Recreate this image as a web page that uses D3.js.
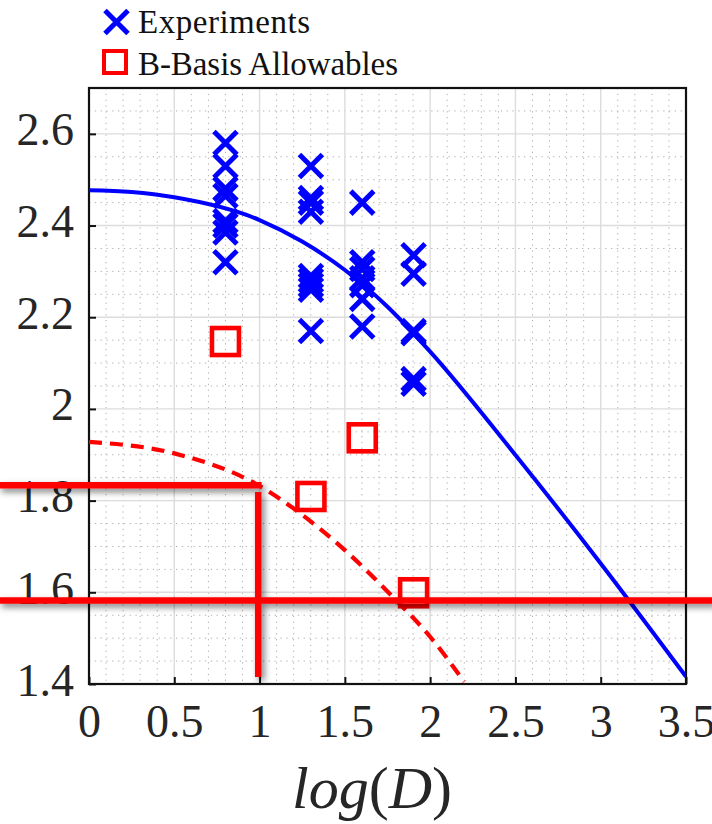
<!DOCTYPE html>
<html><head><meta charset="utf-8">
<script src="https://cdn.jsdelivr.net/npm/d3@7"></script>
<style>body{margin:0;background:#fff}</style>
</head><body><svg id="c" width="712" height="824"></svg>
<script>
// ---- data ----
const xTicks=[0,0.5,1,1.5,2,2.5,3,3.5];
const xTickLabels=["0","0.5","1","1.5","2","2.5","3","3.5"];
const yTicks=[1.4,1.6,1.8,2,2.2,2.4,2.6];
const yTickLabels=["1.4","1.6","1.8","2","2.2","2.4","2.6"];
const expX=[0.8,0.8,0.8,0.8,0.8,0.8,0.8,0.8,
            1.301,1.301,1.301,1.301,1.301,1.301,1.301,1.301,1.301,
            1.602,1.602,1.602,1.602,1.602,1.602,1.602,
            1.903,1.903,1.903,1.903,1.903,1.903];
const expY=[2.58,2.53,2.48,2.465,2.41,2.40,2.385,2.32,
            2.53,2.46,2.45,2.43,2.29,2.28,2.27,2.26,2.17,
            2.45,2.32,2.305,2.285,2.27,2.24,2.18,
            2.335,2.295,2.17,2.165,2.065,2.055];
const basisX=[0.8,1.301,1.602,1.903];
const basisY=[2.147,1.809,1.937,1.599];
const fitX=[0,0.25,0.5,1,1.25,1.5,1.75,2,2.5,3,3.5];
const fitY=[2.477,2.473,2.4615,2.412,2.365,2.303,2.223,2.125,1.8995,1.663,1.416];
const basisFitX=[0,0.5,1,1.25,1.5,1.76,2,2.2];
const basisFitY=[1.928,1.903,1.832,1.769,1.692,1.598,1.503,1.405];
// guide lines (data coords)
const guideUpperX=[-0.53,1.012], guideUpperY=1.8334;
const guideLowerX=[-0.53,3.66], guideLowerY=1.582;
const guideVertX=0.992, guideVertY=[1.819,1.415];
const legendLabels=["Experiments","B-Basis Allowables"];

// ---- layout ----
const L=89,R=686,T=88,B=684;
const svg=d3.select("#c");
svg.append("rect").attr("width",712).attr("height",824).attr("fill","#fff");
const x=d3.scaleLinear().domain([0,3.5]).range([L,R]);
const y=d3.scaleLinear().domain([1.4,2.7]).range([B,T]);
const defs=svg.append("defs");
defs.append("clipPath").attr("id","clip").append("rect").attr("x",L).attr("y",T).attr("width",R-L).attr("height",B-T);
const f=defs.append("filter").attr("id","sh").attr("x","-20%").attr("y","-50%").attr("width","140%").attr("height","200%");
f.append("feDropShadow").attr("dx",3).attr("dy",3.5).attr("stdDeviation",3).attr("flood-color","#000").attr("flood-opacity",0.5);

// grid minor
const g=svg.append("g");
const minorX=d3.range(1,35).map(i=>i/10).filter(v=>Math.abs(v*2-Math.round(v*2))>1e-6);
const minorY=d3.range(1,26).map(i=>1.4+i*0.05).filter(v=>Math.abs(v*5-Math.round(v*5))>1e-6);
g.selectAll(".mx").data(minorX).join("line").attr("x1",d=>x(d)).attr("x2",d=>x(d)).attr("y1",T).attr("y2",B)
 .attr("stroke","#b0b0b0").attr("stroke-width",1).attr("stroke-dasharray","1.3,4.5");
g.selectAll(".my").data(minorY).join("line").attr("y1",d=>y(d)).attr("y2",d=>y(d)).attr("x1",L).attr("x2",R)
 .attr("stroke","#b0b0b0").attr("stroke-width",1).attr("stroke-dasharray","1.3,4.5");
// grid major
g.selectAll(".Mx").data(xTicks.slice(1,-1)).join("line").attr("x1",d=>x(d)).attr("x2",d=>x(d)).attr("y1",T).attr("y2",B)
 .attr("stroke","#dcdcdc").attr("stroke-width",1.4);
g.selectAll(".My").data(yTicks.slice(1)).join("line").attr("y1",d=>y(d)).attr("y2",d=>y(d)).attr("x1",L).attr("x2",R)
 .attr("stroke","#dcdcdc").attr("stroke-width",1.4);

// axes
const fontTick='"Liberation Serif","DejaVu Serif",serif';
const ax=svg.append("g").attr("transform",`translate(0,${B})`)
 .call(d3.axisBottom(x).tickValues(xTicks).tickFormat((d,i)=>xTickLabels[i]).tickSizeInner(-7).tickSizeOuter(0));
ax.select(".domain").remove();
ax.selectAll("line").attr("stroke","#111").attr("stroke-width",2);
ax.selectAll("text").attr("dy",null).attr("y",53).attr("font-family",fontTick).attr("font-size",46).attr("fill","#262626");
const ay=svg.append("g").attr("transform",`translate(${L},0)`)
 .call(d3.axisLeft(y).tickValues(yTicks).tickFormat((d,i)=>yTickLabels[i]).tickSizeInner(-7).tickSizeOuter(0));
ay.select(".domain").remove();
ay.selectAll("line").attr("stroke","#111").attr("stroke-width",2);
ay.selectAll("text").attr("dy",null).attr("x",-15).attr("y",11).attr("font-family",fontTick).attr("font-size",46).attr("fill","#262626");
svg.append("rect").attr("x",L).attr("y",T).attr("width",R-L).attr("height",B-T).attr("fill","none").attr("stroke","#111").attr("stroke-width",2.2);

// curves
const plot=svg.append("g").attr("clip-path","url(#clip)");
const line=d3.line().x(d=>x(d[0])).y(d=>y(d[1])).curve(d3.curveMonotoneX);
plot.append("path").attr("d",line(fitX.map((v,i)=>[v,fitY[i]]))).attr("fill","none").attr("stroke","#0000ff").attr("stroke-width",4);
plot.append("path").attr("d",line(basisFitX.map((v,i)=>[v,basisFitY[i]]))).attr("fill","none").attr("stroke","#ff0000").attr("stroke-width",4.2).attr("stroke-dasharray","13,8");

// markers
const xs=11.5;
const xPath=`M${-xs},${-xs}L${xs},${xs}M${-xs},${xs}L${xs},${-xs}`;
svg.append("g").selectAll("path").data(expX.map((v,i)=>[v,expY[i]])).join("path")
 .attr("transform",d=>`translate(${x(d[0])},${y(d[1])})`).attr("d",xPath)
 .attr("stroke","#0000ff").attr("stroke-width",5).attr("fill","none");
const sq=27;
svg.append("g").selectAll("rect").data(basisX.map((v,i)=>[v,basisY[i]])).join("rect")
 .attr("x",d=>x(d[0])-sq/2).attr("y",d=>y(d[1])-sq/2).attr("width",sq).attr("height",sq)
 .attr("fill","none").attr("stroke","#ff0000").attr("stroke-width",4.6);

// guide lines
const gl=svg.append("g").attr("filter","url(#sh)");
gl.append("line").attr("x1",x(guideUpperX[0])).attr("x2",x(guideUpperX[1])).attr("y1",y(guideUpperY)).attr("y2",y(guideUpperY))
 .attr("stroke","#ff0000").attr("stroke-width",6.5);
gl.append("line").attr("x1",x(guideVertX)).attr("x2",x(guideVertX)).attr("y1",y(guideVertY[0])).attr("y2",y(guideVertY[1]))
 .attr("stroke","#ff0000").attr("stroke-width",6.5);
gl.append("line").attr("x1",x(guideLowerX[0])).attr("x2",x(guideLowerX[1])).attr("y1",y(guideLowerY)).attr("y2",y(guideLowerY))
 .attr("stroke","#ff0000").attr("stroke-width",6.5);

// x label
const xl=svg.append("text").attr("x",372).attr("y",808).attr("text-anchor","middle")
 .attr("font-family",fontTick).attr("font-size",60).attr("fill","#262626");
xl.append("tspan").attr("font-style","italic").text("log");
xl.append("tspan").text("(");
xl.append("tspan").attr("font-style","italic").text("D");
xl.append("tspan").text(")");

// legend
const lg=svg.append("g");
lg.append("path").attr("transform","translate(116.5,22)").attr("d",`M-11.5,-11.5L11.5,11.5M-11.5,11.5L11.5,-11.5`)
 .attr("stroke","#0000ff").attr("stroke-width",5).attr("fill","none");
lg.append("rect").attr("x",104).attr("y",51).attr("width",22).attr("height",22)
 .attr("fill","none").attr("stroke","#ff0000").attr("stroke-width",4);
lg.append("text").attr("x",138).attr("y",33).attr("font-family",fontTick).attr("font-size",33).attr("fill","#111")
 .attr("textLength",172).attr("lengthAdjust","spacing").text(legendLabels[0]);
lg.append("text").attr("x",138).attr("y",74.5).attr("font-family",fontTick).attr("font-size",33).attr("fill","#111")
 .attr("textLength",260).attr("lengthAdjust","spacing").text(legendLabels[1]);
</script></body></html>
